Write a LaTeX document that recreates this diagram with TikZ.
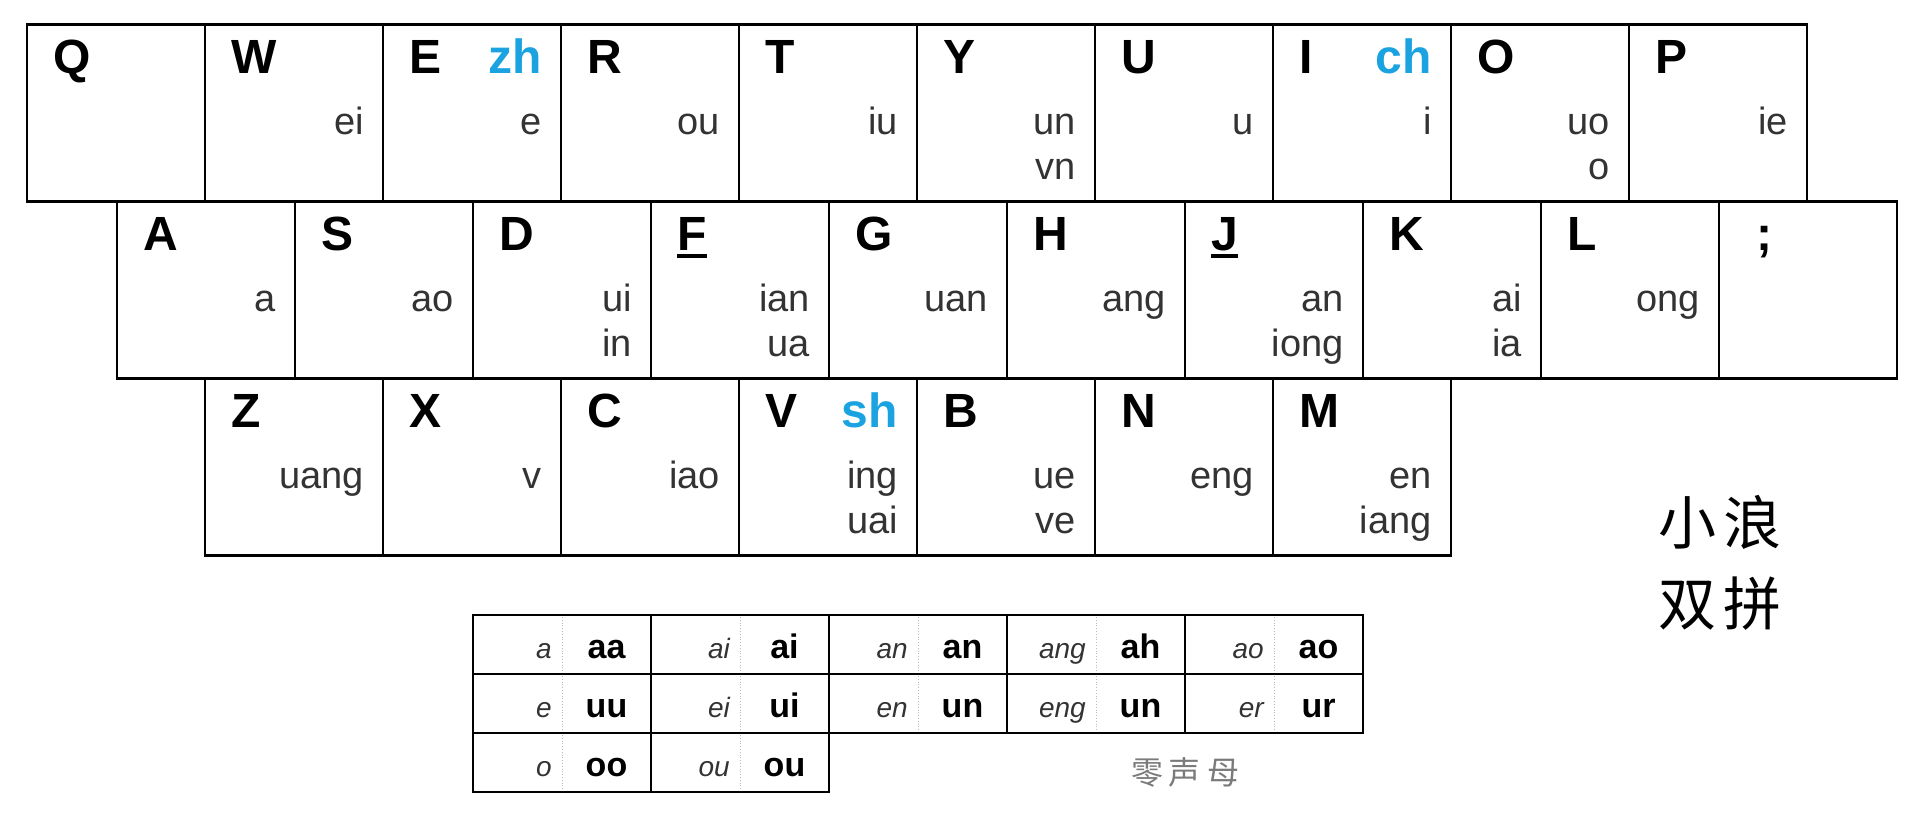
\documentclass[tikz,border=0pt]{standalone}
\usepackage{fontspec}
\setmainfont{Liberation Sans}
\newfontfamily\cjk{Noto Sans CJK SC}
\definecolor{finc}{HTML}{333333}
\definecolor{shc}{HTML}{1AA3E0}
\definecolor{zgray}{HTML}{7A7A7A}
\definecolor{divc}{HTML}{BBBBBB}
\newcommand\thickul[1]{\vtop{\hbox{#1}\kern3pt\hrule height 4pt}}
\tikzset{
 keybox/.style={draw, line width=2.6pt, minimum width=178pt, minimum height=177pt, anchor=north west, inner sep=0pt, outer sep=0pt},
 keyletter/.style={anchor=base west, inner sep=0pt, font=\fontsize{48}{48}\selectfont\bfseries},
 shlabel/.style={anchor=base east, inner sep=0pt, font=\fontsize{48}{48}\selectfont\bfseries, text=shc},
 finlabel/.style={anchor=base east, inner sep=0pt, font=\fontsize{38}{38}\selectfont, text=finc},
 cellbox/.style={draw, line width=2.6pt, minimum width=178pt, minimum height=59pt, anchor=north west, inner sep=0pt, outer sep=0pt},
 divline/.style={draw=divc, line width=0.8pt, dotted},
 itl/.style={anchor=base east, inner sep=0pt, font=\fontsize{28}{28}\selectfont\itshape, text=finc},
 bld/.style={anchor=base, inner sep=0pt, font=\fontsize{34}{34}\selectfont\bfseries},
 cjktitle/.style={inner sep=0pt, font=\fontsize{58}{58}\selectfont\cjk},
 cjknote/.style={inner sep=0pt, font=\fontsize{32}{32}\selectfont\cjk, text=zgray},
}
% name, x, y, letter, fin1, fin2, sh
\newcommand\kkey[7]{%
 \node[keybox] (#1) at (#2,#3) {};
 \node[keyletter] (#1L) at ([shift={(26pt,-49pt)}]#1.north west) {#4};
 \if\relax\detokenize{#5}\relax\else
 \node[finlabel] (#1F) at ([shift={(-19pt,-110pt)}]#1.north east) {#5};\fi
 \if\relax\detokenize{#6}\relax\else
 \node[finlabel] (#1G) at ([shift={(-19pt,-155pt)}]#1.north east) {#6};\fi
 \if\relax\detokenize{#7}\relax\else
 \node[shlabel] (#1S) at ([shift={(-19pt,-49pt)}]#1.north east) {#7};\fi
}
% name, x, y, italic, bold
\newcommand\tcell[5]{%
 \node[cellbox] (#1) at (#2,#3) {};
 \draw[divline] ([yshift=-2pt]#1.north) -- ([yshift=2pt]#1.south);
 \node[itl] (#1i) at ([shift={(-10pt,-43pt)}]#1.north) {#4};
 \node[bld] (#1b) at ([shift={(44.5pt,-43pt)}]#1.north) {#5};
}
\begin{document}
\begin{tikzpicture}[x=1pt,y=-1pt]
\useasboundingbox (0,0) rectangle (1928,820);
% row 1
\kkey{Q}{27}{24.6}{Q}{}{}{}
\kkey{W}{205}{24.6}{W}{ei}{}{}
\kkey{E}{383}{24.6}{E}{e}{}{zh}
\kkey{R}{561}{24.6}{R}{ou}{}{}
\kkey{T}{739}{24.6}{T}{iu}{}{}
\kkey{Y}{917}{24.6}{Y}{un}{vn}{}
\kkey{U}{1095}{24.6}{U}{u}{}{}
\kkey{I}{1273}{24.6}{I}{i}{}{ch}
\kkey{O}{1451}{24.6}{O}{uo}{o}{}
\kkey{P}{1629}{24.6}{P}{ie}{}{}
% row 2
\kkey{A}{117}{201.7}{A}{a}{}{}
\kkey{S}{295}{201.7}{S}{ao}{}{}
\kkey{D}{473}{201.7}{D}{ui}{in}{}
\kkey{F}{651}{201.7}{\thickul{F}}{ian}{ua}{}
\kkey{G}{829}{201.7}{G}{uan}{}{}
\kkey{H}{1007}{201.7}{H}{ang}{}{}
\kkey{J}{1185}{201.7}{\thickul{J}}{an}{iong}{}
\kkey{K}{1363}{201.7}{K}{ai}{ia}{}
\kkey{L}{1541}{201.7}{L}{ong}{}{}
\kkey{semi}{1719}{201.7}{\hspace{11pt};}{}{}{}
% row 3
\kkey{Z}{205}{378.7}{Z}{uang}{}{}
\kkey{X}{383}{378.7}{X}{v}{}{}
\kkey{C}{561}{378.7}{C}{iao}{}{}
\kkey{V}{739}{378.7}{V}{ing}{uai}{sh}
\kkey{B}{917}{378.7}{B}{ue}{ve}{}
\kkey{N}{1095}{378.7}{N}{eng}{}{}
\kkey{M}{1273}{378.7}{M}{en}{iang}{}
% zero-initial table
\tcell{ta}{473}{615}{a}{aa}
\tcell{tai}{651}{615}{ai}{ai}
\tcell{tan}{829}{615}{an}{an}
\tcell{tang}{1007}{615}{ang}{ah}
\tcell{tao}{1185}{615}{ao}{ao}
\tcell{te}{473}{674}{e}{uu}
\tcell{tei}{651}{674}{ei}{ui}
\tcell{ten}{829}{674}{en}{un}
\tcell{teng}{1007}{674}{eng}{un}
\tcell{ter}{1185}{674}{er}{ur}
\tcell{to}{473}{733}{o}{oo}
\tcell{tou}{651}{733}{ou}{ou}
\node[cjknote] (zero) at (1185,772) {零\hspace{6pt}声\hspace{6pt}母};
\node[cjktitle] (t1) at (1720,522) {小\hspace{8pt}浪};
\node[cjktitle] (t2) at (1720,604) {双\hspace{8pt}拼};
\end{tikzpicture}
\end{document}
